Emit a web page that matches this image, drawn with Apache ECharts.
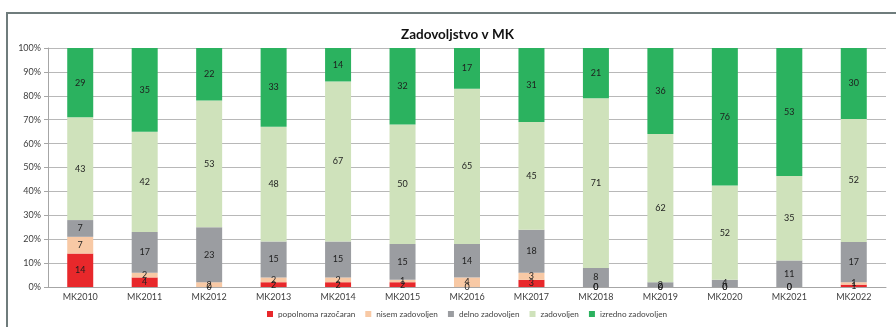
<!DOCTYPE html>
<html>
<head>
<meta charset="utf-8">
<script src="https://cdn.jsdelivr.net/npm/echarts@6/dist/echarts.min.js"></script>
<style>
  html, body { margin: 0; padding: 0; background: #ffffff; }
  #chart { width: 896px; height: 327px; }
</style>
</head>
<body>
<div id="chart"></div>
<script>
// Survey years
const categories = ['MK2010', 'MK2011', 'MK2012', 'MK2013', 'MK2014', 'MK2015', 'MK2016',
                    'MK2017', 'MK2018', 'MK2019', 'MK2020', 'MK2021', 'MK2022'];

// Answer counts per satisfaction level (shown as labels, drawn as shares of each year)
const popolnomaRazocaran = [14, 4, 0, 2, 2, 2, 0, 3, 0, 0, 0, 0, 1];
const nisemZadovoljen    = [7, 2, 2, 2, 2, 1, 4, 3, 0, 0, 0, 0, 1];
const delnoZadovoljen    = [7, 17, 23, 15, 15, 15, 14, 18, 8, 2, 4, 11, 17];
const zadovoljen         = [43, 42, 53, 48, 67, 50, 65, 45, 71, 62, 52, 35, 52];
const izrednoZadovoljen  = [29, 35, 22, 33, 14, 32, 17, 31, 21, 36, 76, 53, 30];

const seriesNames = ['popolnoma razočaran', 'nisem zadovoljen', 'delno zadovoljen', 'zadovoljen', 'izredno zadovoljen'];
const yTicks = [0, 10, 20, 30, 40, 50, 60, 70, 80, 90, 100];

const raw = [popolnomaRazocaran, nisemZadovoljen, delnoZadovoljen, zadovoljen, izrednoZadovoljen];
const colors = ['#e8282b', '#f8c9a5', '#9b9da1', '#cfe2bb', '#2bb25f'];

// Totals per year, so each column fills 100 %
const totals = categories.map((_, i) => raw.reduce((s, arr) => s + arr[i], 0));

const FONT = 'Lato, "Open Sans", sans-serif';

const series = raw.map((vals, si) => ({
  name: seriesNames[si],
  type: 'bar',
  stack: 'share',
  barWidth: 26,
  itemStyle: { color: colors[si] },
  data: vals.map((v, i) => v / totals[i] * 100),
  label: {
    show: true,
    position: 'inside',
    color: '#1e1e1e',
    fontSize: 9,
    fontFamily: FONT,
    formatter: p => String(raw[si][p.dataIndex])
  },
  emphasis: { disabled: true }
}));

const chart = echarts.init(document.getElementById('chart'), null, { renderer: 'canvas' });
chart.setOption({
  animation: false,
  backgroundColor: '#ffffff',
  textStyle: { fontFamily: FONT },
  title: {
    text: 'Zadovoljstvo v MK',
    left: 396,
    top: 23,
    textStyle: { fontSize: 13.5, fontWeight: 'bold', color: '#111111', fontFamily: FONT }
  },
  graphic: [
    {
      type: 'polyline',
      shape: { points: [[7, 327], [7, 13], [896, 13]] },
      style: { stroke: '#6f7c7c', lineWidth: 2, fill: null },
      silent: true
    }
  ],
  legend: {
    bottom: 4,
    left: 262,
    icon: 'rect',
    itemWidth: 6,
    itemHeight: 6,
    itemGap: 10,
    textStyle: { fontSize: 8.2, color: '#444444', fontFamily: FONT },
    data: seriesNames
  },
  grid: { left: 48, right: 10, top: 48, bottom: 40 },
  xAxis: {
    type: 'category',
    data: categories,
    axisLine: { lineStyle: { color: '#a6a6a6', width: 1 } },
    axisTick: { show: false },
    axisLabel: { fontSize: 9, color: '#404040', margin: 6, fontFamily: FONT }
  },
  yAxis: {
    type: 'value',
    min: yTicks[0],
    max: yTicks[yTicks.length - 1],
    interval: yTicks[1] - yTicks[0],
    axisLine: { show: true, lineStyle: { color: '#a6a6a6', width: 1 } },
    axisTick: { show: true, length: 4, lineStyle: { color: '#a6a6a6' } },
    axisLabel: { fontSize: 9, color: '#404040', margin: 7, formatter: '{value}%', fontFamily: FONT },
    splitLine: { lineStyle: { color: '#b8b8b8', width: 1 } }
  },
  series: series
});
</script>
</body>
</html>
